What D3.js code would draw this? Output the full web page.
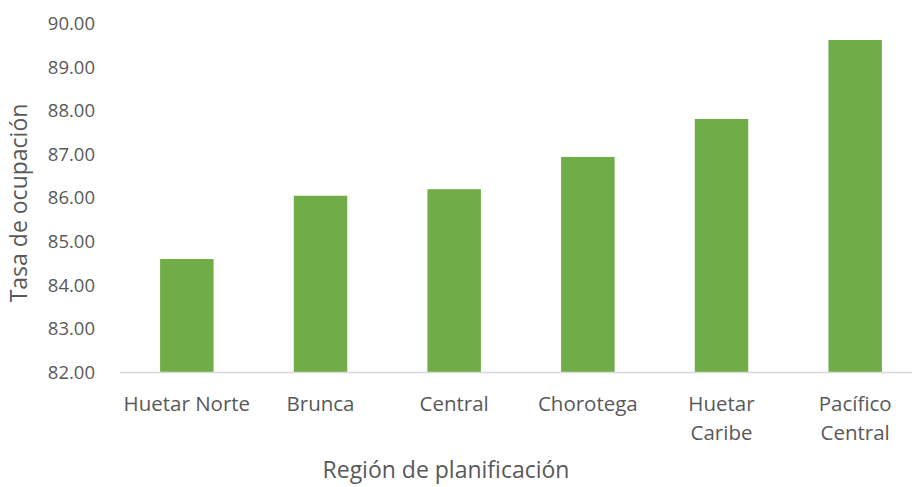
<!DOCTYPE html>
<html lang="es">
<head>
<meta charset="UTF-8">
<title>Tasa de ocupación por región de planificación</title>
<style>
  html, body { margin: 0; background: #fff; }
  text { font-family: 'Open Sans', 'Lato', sans-serif; fill: #595959; }
  .axis path, .axis line { stroke: none; }
</style>
</head>
<body>
<svg id="chart" width="912" height="487" viewBox="0 0 912 487"></svg>
<script src="https://cdn.jsdelivr.net/npm/d3@7"></script>
<script>
const regions = ["Huetar Norte", "Brunca", "Central", "Chorotega", "Huetar Caribe", "Pacífico Central"];
const labelLines = [["Huetar Norte"], ["Brunca"], ["Central"], ["Chorotega"], ["Huetar", "Caribe"], ["Pacífico", "Central"]];
const rates = [84.59, 86.04, 86.19, 86.93, 87.80, 89.61];
const yTicks = [82, 83, 84, 85, 86, 87, 88, 89, 90];

const svg = d3.select("#chart"),
    margin = {top: 23, left: 120, bottom: 115},
    height = +svg.attr("height") - margin.top - margin.bottom;

const x = d3.scaleBand().domain(regions).range([margin.left, margin.left + 802]).paddingInner(0.6).paddingOuter(0.3);
const y = d3.scaleLinear().domain([82, 90]).range([margin.top + height, margin.top]);

// y axis labels
svg.append("g")
    .attr("class", "axis")
    .attr("transform", "translate(" + (margin.left - 22) + ",0)")
    .call(d3.axisLeft(y).tickValues(yTicks).tickFormat(d3.format(".2f")).tickSize(0))
    .selectAll("text")
    .attr("font-size", 18.5)
    .attr("dy", "0.35em");

svg.selectAll(".bar")
    .data(rates)
    .enter().append("rect")
    .attr("class", "bar")
    .attr("x", (d, i) => x(regions[i]))
    .attr("width", x.bandwidth())
    .attr("y", d => y(d))
    .attr("height", d => y(82) - y(d))
    .attr("fill", "#70ad47");

// baseline
svg.append("line")
    .attr("x1", margin.left).attr("x2", 912)
    .attr("y1", y(82) + 0.5).attr("y2", y(82) + 0.5)
    .attr("stroke", "#d9d9d9").attr("stroke-width", 1.5);

// category labels
const cat = svg.append("g").selectAll("text")
    .data(labelLines)
    .enter().append("text")
    .attr("text-anchor", "middle")
    .attr("font-size", 20.5)
    .attr("transform", (d, i) => "translate(" + (x(regions[i]) + x.bandwidth() / 2) + "," + (y(82) + 39) + ")");
cat.selectAll("tspan")
    .data(d => d)
    .enter().append("tspan")
    .attr("x", 0)
    .attr("dy", (d, i) => i === 0 ? 0 : 29)
    .text(d => d);

svg.append("text")
    .attr("x", 446).attr("y", 478)
    .attr("text-anchor", "middle")
    .attr("font-size", 23)
    .text("Región de planificación");

svg.append("text")
    .attr("transform", "translate(27,203) rotate(-90)")
    .attr("text-anchor", "middle")
    .attr("font-size", 23)
    .text("Tasa de ocupación");
</script>
</body>
</html>
